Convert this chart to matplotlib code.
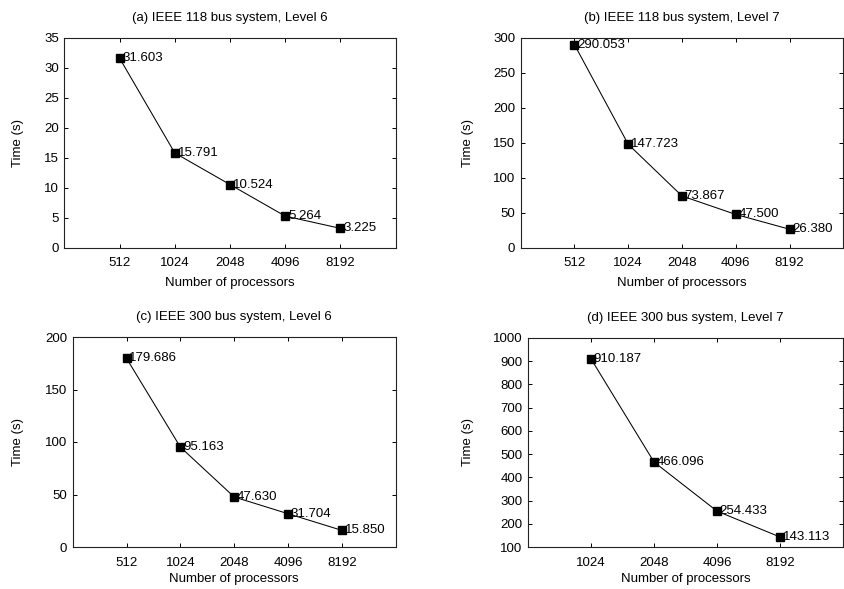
import matplotlib
matplotlib.use("Agg")
import matplotlib.pyplot as plt
import numpy as np

plt.rcParams['font.family'] = ['Liberation Sans', 'DejaVu Sans']
FS = 9.5
plt.rcParams['font.size'] = FS

procs_a = ["512", "1024", "2048", "4096", "8192"]
time_a = [31.603, 15.791, 10.524, 5.264, 3.225]
procs_b = ["512", "1024", "2048", "4096", "8192"]
time_b = [290.053, 147.723, 73.867, 47.500, 26.380]
procs_c = ["512", "1024", "2048", "4096", "8192"]
time_c = [179.686, 95.163, 47.630, 31.704, 15.850]
procs_d = ["1024", "2048", "4096", "8192"]
time_d = [910.187, 466.096, 254.433, 143.113]

titles = ["(a) IEEE 118 bus system, Level 6",
          "(b) IEEE 118 bus system, Level 7",
          "(c) IEEE 300 bus system, Level 6",
          "(d) IEEE 300 bus system, Level 7"]
yticks_list = [np.arange(0, 36, 5), np.arange(0, 301, 50),
               np.arange(0, 201, 50), np.arange(100, 1001, 100)]

W, H = 845, 589
fig = plt.figure(figsize=(W / 100, H / 100), dpi=100)

# axes boxes in pixels: left, top, right, bottom
boxes = [(64.3, 37.7, 395.7, 247.7),
         (520.7, 37.7, 843.3, 247.7),
         (72.7, 337.0, 395.7, 547.0),
         (528.0, 338.0, 843.0, 547.0)]
ylab_px = [24, 474, 24, 474]
xlab_off = [29, 29, 26, 26]

panels = [(procs_a, time_a), (procs_b, time_b), (procs_c, time_c), (procs_d, time_d)]

for i, ((cats, vals), box, title, yt) in enumerate(zip(panels, boxes, titles, yticks_list)):
    l, t, r, b = box
    ax = fig.add_axes([l / W, (H - b) / H, (r - l) / W, (b - t) / H])
    x = np.arange(len(cats))
    ax.plot(x, vals, color='black', lw=0.75, marker='s', markersize=5.5,
            markerfacecolor='black', markeredgecolor='black')
    for xi, v in zip(x, vals):
        ax.annotate(f"{v:.3f}", (xi, v), xytext=(2, 0), textcoords='offset points',
                    va='center', ha='left', fontsize=FS)
    ax.set_xlim(-1, len(cats))
    ax.set_ylim(yt[0], yt[-1])
    ax.set_xticks(x)
    ax.set_xticklabels(cats)
    ax.set_yticks(yt)
    ax.tick_params(direction='in', length=3, width=0.7, top=True, right=True,
                   labelsize=FS)
    ax.tick_params(axis='x', pad=7)
    ax.tick_params(axis='y', pad=4)
    for s in ax.spines.values():
        s.set_linewidth(0.8)
        s.set_color('#222222')
    ax.set_title(title, fontsize=FS, pad=12)
    ax.set_xlabel("Number of processors", fontsize=FS)
    ax.set_ylabel("Time (s)", fontsize=FS)
    ax.xaxis.set_label_coords(0.5, -xlab_off[i] / (b - t))
    ax.yaxis.set_label_coords((ylab_px[i] - l) / (r - l), 0.5)

fig.savefig("out.png", dpi=100)
